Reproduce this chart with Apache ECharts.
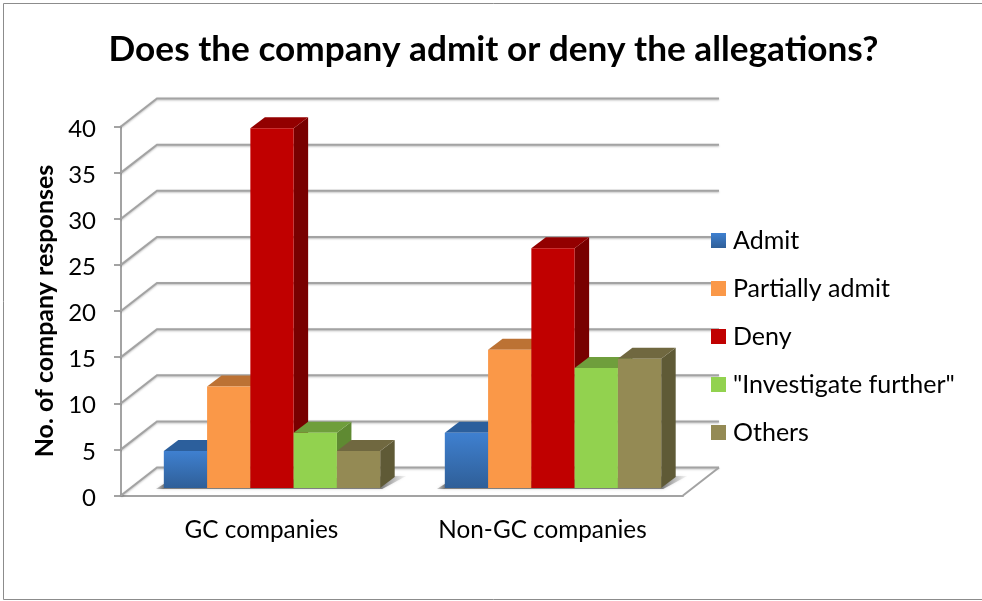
<!DOCTYPE html>
<html>
<head>
<meta charset="utf-8">
<script src="https://cdn.jsdelivr.net/npm/echarts@6/dist/echarts.min.js"></script>
<style>html,body{margin:0;padding:0;background:#fff}#c{width:982px;height:601px}</style>
</head>
<body>
<div id="c"></div>
<script>
const categories = ['GC companies', 'Non-GC companies'];
const seriesNames = ['Admit', 'Partially admit', 'Deny', '"Investigate further"', 'Others'];
const admit = [4, 6];
const partiallyAdmit = [11, 15];
const deny = [39, 26];
const investigateFurther = [6, 13];
const others = [4, 14];
const yTicks = [0, 5, 10, 15, 20, 25, 30, 35, 40];
const allValues = [admit, partiallyAdmit, deny, investigateFurther, others];

const FONT = 'Lato, Carlito, "Open Sans", sans-serif';
const GRID_COLOR = '#a3a3a3';
const WALL = [36, -28];
const BASE = [10.5, -7.5];
const DEPTH = [14.5, -11];
const BAR_FRACTION = 0.154;

const fronts = [
  new echarts.graphic.LinearGradient(0, 0, 0, 1, [{offset: 0, color: '#3F80D0'}, {offset: 1, color: '#2F5F98'}]),
  '#FA9848', '#C00000', '#92D24F', '#948A54'
];
const tops = ['#2C5F9C', '#BC7234', '#930000', '#6F9E3C', '#706840'];
const sides = ['#24507F', '#A86428', '#780000', '#5F8A32', '#5F5A36'];

function wallRender(params, api) {
  const p = api.coord([0, api.value(0)]);
  const band = api.size([1, 0])[0];
  const x0 = p[0] - band / 2, x1 = x0 + band * 2, y = p[1];
  return {
    type: 'polyline',
    shape: {points: [[x0, y], [x0 + WALL[0], y + WALL[1]], [x1 + WALL[0], y + WALL[1]]]},
    style: {fill: 'none', stroke: GRID_COLOR, lineWidth: 2, shadowBlur: 2, shadowColor: 'rgba(0,0,0,0.25)', shadowOffsetY: 1}
  };
}

function floorRender(params, api) {
  const p = api.coord([0, 0]);
  const band = api.size([1, 0])[0];
  const x1 = p[0] - band / 2 + band * 2, y = p[1];
  return {
    type: 'polyline',
    shape: {points: [[x1, y], [x1 + WALL[0], y + WALL[1]]]},
    style: {fill: 'none', stroke: GRID_COLOR, lineWidth: 2}
  };
}

function shadowRender(params, api) {
  const p = api.coord([api.value(0), 0]);
  const w = api.size([1, 0])[0] * BAR_FRACTION;
  const xa = p[0] + BASE[0] - 2.5 * w, xb = p[0] + BASE[0] + 2.5 * w, y = p[1] + BASE[1];
  return {
    type: 'polygon',
    shape: {points: [[xa - 8, y + 1], [xb + 2, y + 1], [xb + 26, y - 12], [xb + 14, y - 12], [xa, y - 4]]},
    style: {
      fill: new echarts.graphic.LinearGradient(0, 0, 1, 0, [
        {offset: 0, color: 'rgba(120,120,120,0.3)'}, {offset: 0.03, color: 'rgba(110,110,110,0.85)'},
        {offset: 0.9, color: 'rgba(110,110,110,0.85)'}, {offset: 1, color: 'rgba(170,170,170,0.1)'}
      ]),
      shadowBlur: 3, shadowColor: 'rgba(150,150,150,0.5)'
    }
  };
}

function barRender(i) {
  return function (params, api) {
    const cat = api.value(0);
    const top = api.coord([cat, api.value(1)]);
    const bot = api.coord([cat, 0]);
    const w = api.size([1, 0])[0] * BAR_FRACTION;
    const x0 = top[0] + BASE[0] + (i - 2.5) * w, x1 = x0 + w;
    const yT = top[1] + BASE[1], yB = bot[1] + BASE[1];
    const dx = DEPTH[0], dy = DEPTH[1];
    return {
      type: 'group',
      children: [
        {type: 'polygon', shape: {points: [[x1, yT], [x1 + dx, yT + dy], [x1 + dx, yB + dy], [x1, yB]]}, style: {fill: sides[i]}},
        {type: 'polygon', shape: {points: [[x0, yT], [x0 + dx, yT + dy], [x1 + dx, yT + dy], [x1, yT]]}, style: {fill: tops[i]}},
        {type: 'rect', shape: {x: x0, y: yT, width: w, height: yB - yT}, style: {fill: fronts[i]}}
      ]
    };
  };
}

const chart = echarts.init(document.getElementById('c'), null, {renderer: 'canvas'});
chart.setOption({
  animation: false,
  backgroundColor: '#fff',
  title: {
    text: 'Does the company admit or deny the allegations?',
    left: 488.5, top: 27, textAlign: 'center',
    textStyle: {fontFamily: FONT, fontWeight: 'bold', fontSize: 35.2, color: '#000'}
  },
  graphic: [{
    type: 'rect', silent: true, z: -1,
    shape: {x: 3.5, y: 3.5, width: 985, height: 596},
    style: {fill: 'none', stroke: '#8c8c8c', lineWidth: 1}
  }],
  grid: {left: 121, top: 126.5, width: 562, height: 369},
  legend: {
    show: true, orient: 'vertical', left: 711, top: 228, padding: 0,
    itemWidth: 15, itemHeight: 15, itemGap: 23, selectedMode: false,
    icon: 'rect',
    data: seriesNames,
    textStyle: {fontFamily: FONT, fontSize: 25, color: '#000', padding: [0, 0, 0, 2]},
    itemStyle: {borderWidth: 0}
  },
  xAxis: {
    type: 'category', data: categories,
    axisLine: {lineStyle: {color: GRID_COLOR, width: 2}},
    axisTick: {show: false},
    axisLabel: {fontFamily: FONT, fontSize: 24.3, color: '#000', margin: 23}
  },
  yAxis: {
    type: 'value', min: 0, max: 40, interval: 5,
    name: 'No. of company responses', nameLocation: 'middle', nameGap: 63, nameRotate: 90,
    nameTextStyle: {fontFamily: FONT, fontWeight: 'bold', fontSize: 25, color: '#000'},
    axisLine: {show: true, lineStyle: {color: GRID_COLOR, width: 2}},
    axisTick: {show: true, length: 7, lineStyle: {color: GRID_COLOR, width: 2}},
    axisLabel: {fontFamily: FONT, fontSize: 24, color: '#000', margin: 25, verticalAlign: 'top', lineHeight: 5},
    splitLine: {show: false}
  },
  series: [
    {type: 'custom', name: 'wall', coordinateSystem: 'cartesian2d', renderItem: wallRender, clip: false, silent: true,
      data: yTicks.map(t => [t]), encode: {x: -1, y: 0}, z: 1},
    {type: 'custom', name: 'floor', coordinateSystem: 'cartesian2d', renderItem: floorRender, clip: false, silent: true,
      data: [[0]], encode: {y: 0}, z: 1},
    {type: 'custom', name: 'shadow', coordinateSystem: 'cartesian2d', renderItem: shadowRender, clip: false, silent: true,
      data: categories.map((c, k) => [k, 0]), encode: {x: 0, y: 1}, z: 2}
  ].concat(seriesNames.map((name, i) => ({
    type: 'custom', name: name, coordinateSystem: 'cartesian2d', renderItem: barRender(i), clip: false, z: 3,
    itemStyle: {color: i === 0 ? new echarts.graphic.LinearGradient(0, 0, 0, 1, [{offset: 0, color: '#3F80D0'}, {offset: 1, color: '#2F5F98'}]) : fronts[i]},
    encode: {x: 0, y: 1},
    data: categories.map((c, k) => [k, allValues[i][k]])
  })))
});
</script>
</body>
</html>
